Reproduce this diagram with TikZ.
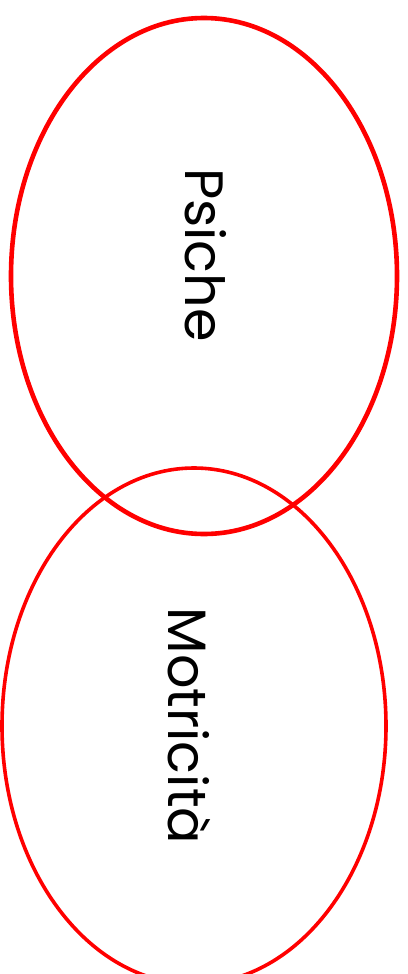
\documentclass[tikz,border=0pt]{standalone}
\usepackage{fontspec}
\setmainfont{Poppins}

\begin{document}
\begin{tikzpicture}[x=1pt, y=-1pt]
	\useasboundingbox (0,0) rectangle (407,974);
	% upper field
	\begin{scope}
	\draw[line width=4.6pt, color=red] (204,276) ellipse (193 and 258);
	\node[rotate=-90, font=\fontsize{54}{56}\selectfont, inner sep=0pt] (psiche) at (206,255) {Psiche};
	\end{scope}
	% lower field
	\begin{scope}
	\draw[line width=3.6pt, color=red] (194,726) ellipse (192 and 258);
	\node[rotate=-90, font=\fontsize{54}{56}\selectfont, inner sep=0pt] (motricita) at (189,726) {Motricità};
	\end{scope}
\end{tikzpicture}
\end{document}
